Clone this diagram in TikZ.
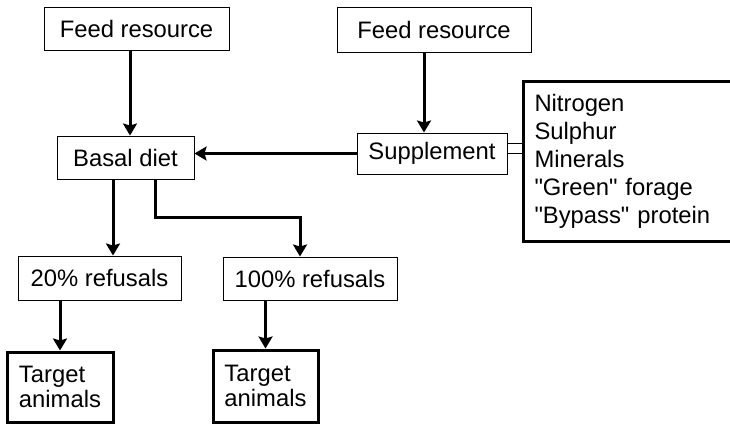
\documentclass[tikz,border=0pt]{standalone}
\usepackage{fontspec}
\setmainfont{Liberation Sans}
\usepackage{tikz}
\usetikzlibrary{arrows.meta}

\begin{document}
\begin{tikzpicture}[x=1pt,y=-1pt,>={Stealth[length=12pt,width=14pt,inset=2pt]},
                    font=\fontsize{23.8}{28}\selectfont,
                    box/.style={draw,line width=1pt,inner sep=0pt},
                    heavy box/.style={draw,line width=3pt,inner sep=0pt},
                    link/.style={->,line width=3pt}]
%  \draw[help lines] (0,0) grid[step=50] (730,424);
  \useasboundingbox (0,0) rectangle (730,424);

  \node[box,minimum width=185pt,minimum height=43pt] (F1) at (136.5,28.5) {Feed resource};
  \node[box,minimum width=194pt,minimum height=45pt] (F2) at (434,29.5)   {Feed resource};
  \node[box,minimum width=137pt,minimum height=43pt] (B)  at (125.5,157.5) {Basal diet};
  \node[box,minimum width=150pt,minimum height=41pt] (S)  at (432,153.5)  {Supplement};
  \node[heavy box,anchor=north west,minimum height=160pt,inner xsep=11pt,
        text width=200pt,align=left] (L) at (522,80)
        {Nitrogen\\Sulphur\\Minerals\\\textquotedbl Green\textquotedbl{} forage\\\textquotedbl Bypass\textquotedbl{} protein};
  \node[box,minimum width=163pt,minimum height=44pt] (R1) at (99.5,278)  {20\% refusals};
  \node[box,minimum width=174pt,minimum height=43pt] (R2) at (310,278.5) {100\% refusals};
  \node[heavy box,minimum width=106pt,minimum height=70pt,align=left,
        font=\fontsize{23.8}{25.5}\selectfont] (T1) at (60,387) {Target\\animals};
  \node[heavy box,minimum width=105pt,minimum height=72pt,align=left,
        font=\fontsize{23.8}{25.5}\selectfont] (T2) at (265.5,386) {Target\\animals};

  \draw[link] ([xshift=-6.5pt]F1.south) -- ([xshift=-6.5pt]F1.south |- B.north);
  \draw[link] ([xshift=-10pt]F2.south) -- ([xshift=-10pt]F2.south |- S.north);
  \draw[link] (S.west) -- (S.west -| B.east);
  \draw[link] ([xshift=-12.5pt]B.south) -- ([xshift=-12.5pt]B.south |- R1.north);
  \draw[link] ([xshift=29.5pt]B.south) -- ++(0,38) -| ([xshift=-10pt]R2.north);
  \draw[link] (R1.south -| T1.north) -- (T1.north);
  \draw[link] (R2.south -| T2.north) -- (T2.north);

  \draw[line width=1pt] (S.east) -- (S.east -| L.west);
  \draw[line width=1pt] ([yshift=10pt]S.east) -- ([yshift=10pt]S.east -| L.west);
\end{tikzpicture}
\end{document}
